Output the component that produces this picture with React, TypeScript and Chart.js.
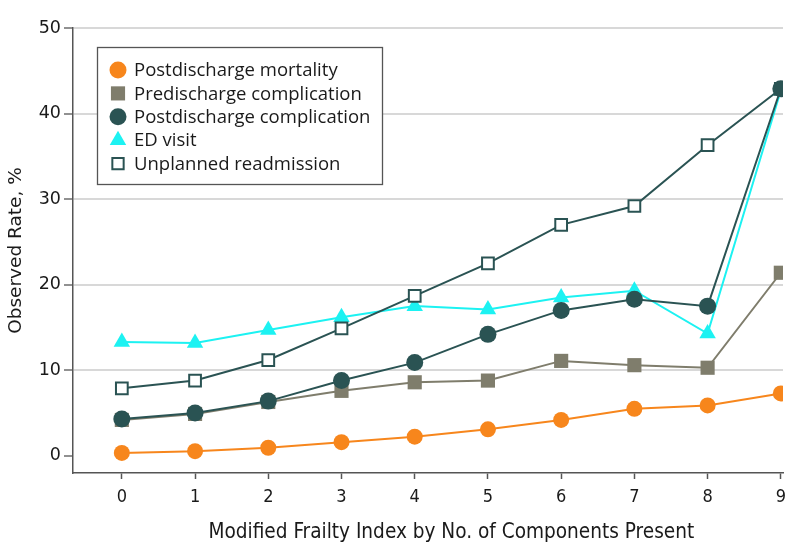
import React, { useEffect, useRef } from "react";
import { Chart, registerables } from "chart.js";
import { drawPoint } from "chart.js/helpers";

Chart.register(...registerables);

const components = [0, 1, 2, 3, 4, 5, 6, 7, 8, 9];
const postdischargeMortality = [0.35, 0.55, 0.95, 1.6, 2.25, 3.1, 4.2, 5.5, 5.9, 7.3];
const predischargeComplication = [4.2, 4.9, 6.3, 7.6, 8.6, 8.8, 11.1, 10.6, 10.3, 21.4];
const postdischargeComplication = [4.3, 5.0, 6.4, 8.8, 10.9, 14.2, 17.0, 18.3, 17.5, 42.9];
const edVisit = [13.3, 13.2, 14.7, 16.2, 17.5, 17.1, 18.5, 19.3, 14.3, 42.7];
const unplannedReadmission = [7.9, 8.8, 11.2, 14.9, 18.7, 22.5, 27.0, 29.2, 36.3, 42.9];
const yTicks = [0, 10, 20, 30, 40, 50];
const xTitle = "Modified Frailty Index by No. of Components Present";
const yTitle = "Observed Rate, %";

const ORANGE = "#f7861c";
const GRAY = "#7f7d6c";
const TEAL = "#2a5353";
const CYAN = "#1cf2f2";
const AXIS = "#555555";
const TEXT = "#1a1a1a";
const COND = "'DejaVu Sans Condensed', 'DejaVu Sans', sans-serif";

const legendItems = [
  { label: "Postdischarge mortality", style: "circle", r: 8.5, fill: ORANGE, stroke: ORANGE, bw: 0 },
  { label: "Predischarge complication", style: "rect", r: 10, fill: GRAY, stroke: GRAY, bw: 0 },
  { label: "Postdischarge complication", style: "circle", r: 8.5, fill: TEAL, stroke: TEAL, bw: 0 },
  { label: "ED visit", style: "triangle", r: 9.5, fill: CYAN, stroke: CYAN, bw: 0 },
  { label: "Unplanned readmission", style: "rect", r: 8, fill: "#ffffff", stroke: TEAL, bw: 2 },
];

const boxLegend = {
  id: "boxLegend",
  afterDraw(chart: any) {
    const { ctx, chartArea } = chart;
    const x0 = chartArea.left + 24;
    const y0 = chartArea.top + 19;
    const w = 285;
    const h = 137;
    ctx.save();
    ctx.fillStyle = "#ffffff";
    ctx.fillRect(x0, y0, w, h);
    ctx.strokeStyle = AXIS;
    ctx.lineWidth = 1.3;
    ctx.strokeRect(x0 + 0.5, y0 + 0.5, w, h);
    ctx.font = "18.5px 'Open Sans'";
    ctx.textBaseline = "middle";
    ctx.textAlign = "left";
    legendItems.forEach((it, i) => {
      const cy = y0 + 23 + i * 23.4;
      const cx = x0 + 21;
      ctx.fillStyle = it.fill;
      ctx.strokeStyle = it.stroke;
      ctx.lineWidth = it.bw;
      drawPoint(ctx, { pointStyle: it.style, radius: it.r, borderWidth: it.bw, rotation: 0 } as any, cx, cy);
      ctx.fillStyle = TEXT;
      ctx.fillText(it.label, x0 + 37, cy + 1);
    });
    ctx.restore();
  },
};

const xTitlePlugin = {
  id: "xTitlePlugin",
  afterDraw(chart: any) {
    const { ctx } = chart;
    const xs = chart.scales.x;
    const cx = (xs.getPixelForValue(components[0]) + xs.getPixelForValue(components[components.length - 1])) / 2;
    ctx.save();
    ctx.fillStyle = TEXT;
    ctx.font = "20.6px " + COND;
    ctx.textAlign = "center";
    ctx.textBaseline = "alphabetic";
    ctx.fillText(xTitle, cx, xs.bottom - 21.5);
    ctx.restore();
  },
};

function makeDataset(label: string, data: number[], color: string, style: string, radius: number, order: number, fill?: string) {
  return {
    label,
    data: data.map((v, i) => ({ x: components[i], y: v })),
    borderColor: color,
    backgroundColor: fill || color,
    pointBackgroundColor: fill || color,
    pointBorderColor: color,
    pointBorderWidth: fill ? 2 : 0,
    pointStyle: style,
    pointRadius: radius,
    pointHoverRadius: radius,
    borderWidth: 2,
    tension: 0,
    order,
  };
}

export default function App() {
  const ref = useRef<HTMLCanvasElement>(null);
  useEffect(() => {
    if (!ref.current) return;
    const chart = new Chart(ref.current, {
      type: "line",
      data: {
        datasets: [
          makeDataset("Postdischarge mortality", postdischargeMortality, ORANGE, "circle", 8, 4),
          makeDataset("Predischarge complication", predischargeComplication, GRAY, "rect", 10, 3),
          makeDataset("Postdischarge complication", postdischargeComplication, TEAL, "circle", 8.5, 0),
          makeDataset("ED visit", edVisit, CYAN, "triangle", 9.5, 2),
          makeDataset("Unplanned readmission", unplannedReadmission, TEAL, "rect", 8.3, 1, "#ffffff"),
        ] as any,
      },
      options: {
        animation: false,
        responsive: false,
        maintainAspectRatio: false,
        layout: { padding: { top: 28, right: 0, left: 0, bottom: 0 } },
        plugins: { legend: { display: false }, tooltip: { enabled: false } },
        scales: {
          x: {
            type: "linear",
            min: -0.667,
            max: 9.03,
            afterBuildTicks: (s: any) => {
              s.ticks = components.map((v) => ({ value: v }));
            },
            afterFit: (s: any) => {
              s.height = 86;
            },
            border: { color: AXIS, width: 1.5 },
            grid: { drawOnChartArea: false, tickLength: 6, tickColor: AXIS, tickWidth: 1.5 },
            ticks: {
              color: TEXT,
              padding: 8,
              maxRotation: 0,
              font: { family: COND, size: 18 },
              callback: (v: any) => String(v),
            },
          },
          y: {
            type: "linear",
            min: -2,
            max: 50,
            afterBuildTicks: (s: any) => {
              s.ticks = yTicks.map((v) => ({ value: v }));
            },
            afterFit: (s: any) => {
              s.width = 73;
            },
            border: { color: AXIS, width: 1.5 },
            grid: {
              color: (c: any) => (c.tick && c.tick.value > 0 ? "#d8d8d8" : "rgba(0,0,0,0)"),
              lineWidth: 2,
              tickLength: 9,
              tickColor: AXIS,
              tickWidth: 1.3,
            },
            ticks: {
              color: TEXT,
              padding: 3,
              font: { family: "'DejaVu Sans'", size: 17.5 },
            },
            title: {
              display: true,
              text: yTitle,
              color: TEXT,
              font: { family: "'DejaVu Sans'", size: 18.5 },
              padding: { top: 5, bottom: 0 },
            },
          },
        },
      },
      plugins: [boxLegend, xTitlePlugin],
    });
    return () => chart.destroy();
  }, []);
  return (
    <div style={{ position: "fixed", left: 0, top: 0, width: 794, height: 559, background: "#fff" }}>
      <canvas ref={ref} width={794} height={559} style={{ width: 794, height: 559, display: "block" }} />
    </div>
  );
}
